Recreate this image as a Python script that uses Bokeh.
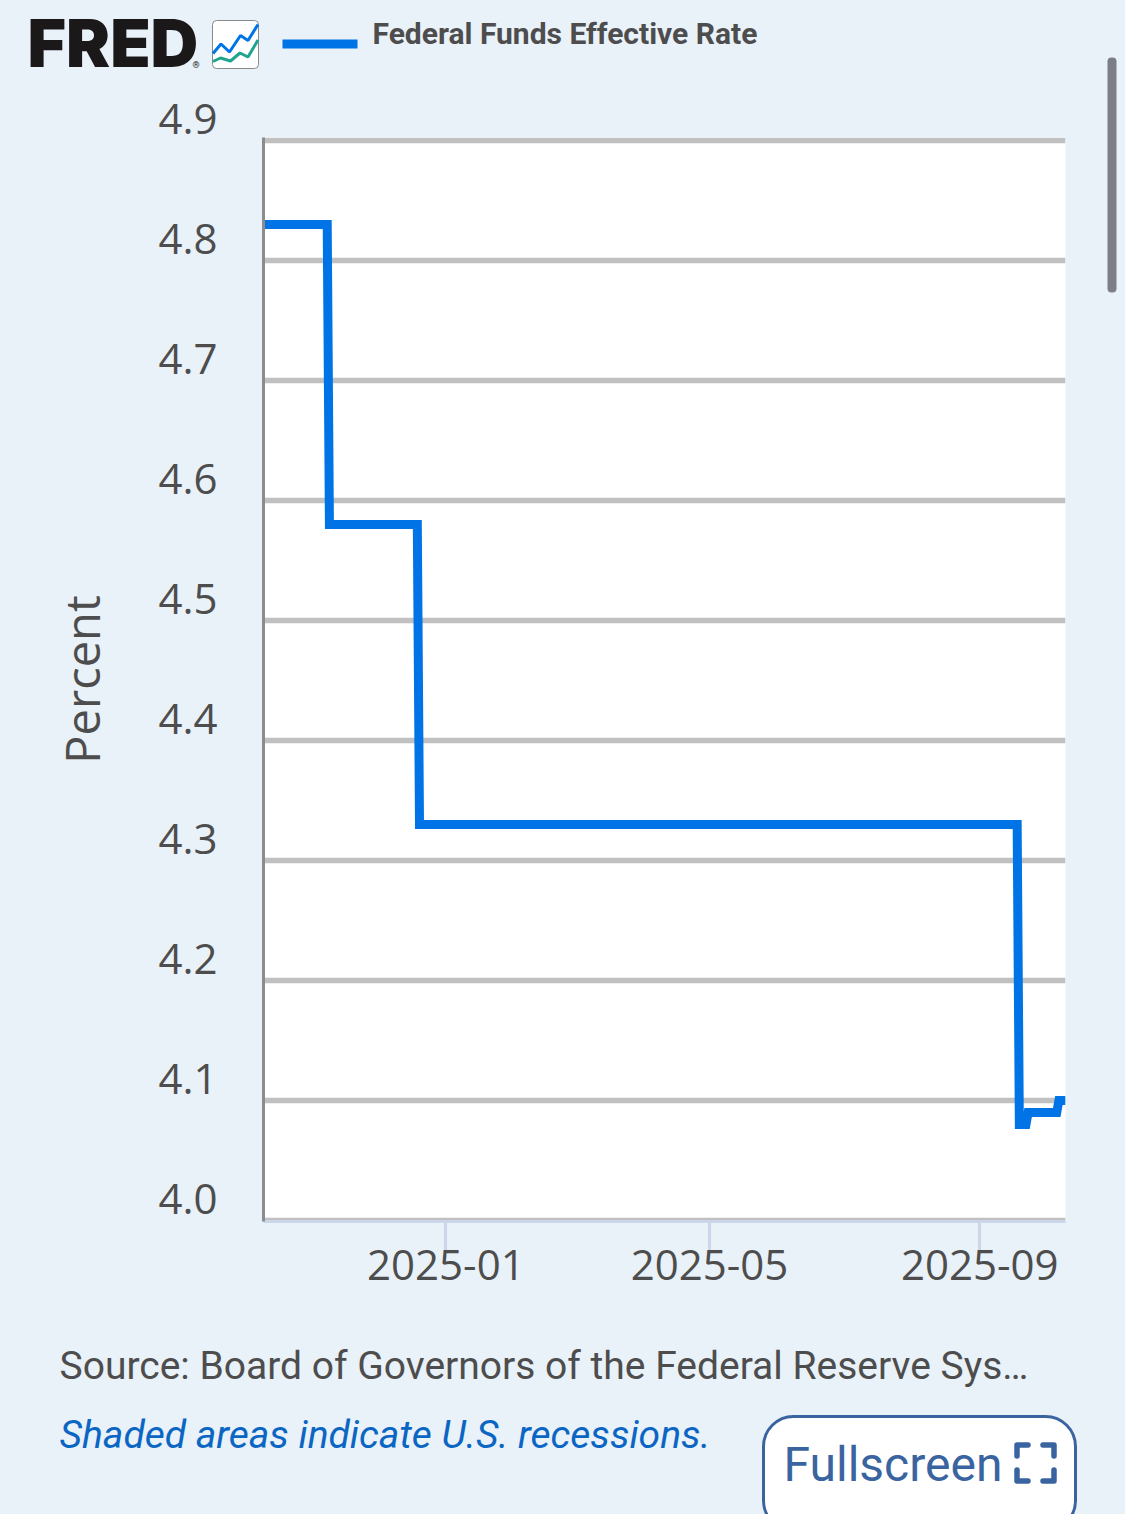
from datetime import datetime
from bokeh.plotting import figure
from bokeh.embed import file_html
from bokeh.resources import INLINE
from bokeh.core.properties import value
from bokeh.models import BoxAnnotation, DatetimeTickFormatter, FixedTicker, NumeralTickFormatter, Range1d

# ---- data ----
dates = ["2024-10-09", "2024-11-08", "2024-11-09", "2024-12-19", "2024-12-20",
         "2025-09-18", "2025-09-19", "2025-09-22", "2025-09-23", "2025-10-06", "2025-10-07", "2025-10-10"]
rates = [4.83, 4.83, 4.58, 4.58, 4.33, 4.33, 4.08, 4.08, 4.09, 4.09, 4.10, 4.10]
y_ticks = [4.0, 4.1, 4.2, 4.3, 4.4, 4.5, 4.6, 4.7, 4.8, 4.9]
x_ticks = ["2025-01-01", "2025-05-01", "2025-09-01"]
series_name = "Federal Funds Effective Rate"
y_title = "Percent"
source_note = "Source: Board of Governors of the Federal Reserve Sys\u2026"
recession_note = "Shaded areas indicate U.S. recessions."
button_text = "Fullscreen"

BG = "#e9f1f9"
BLUE = "#0073e6"
TXT = "#4d4d4d"
BTN = "#3a64a0"
ABS = {"position": "absolute", "left": "0px", "top": "0px"}

FL, FR, FT, FB = 263, 1065, 137, 1221
W, H = 1125, 1514
PER_UNIT = 1200.0
LABEL_RISE = 22  # y tick labels sit this many pixels above their gridlines
BASE = 0.37      # how far below y the "alphabetic" svg text lands, per px of font size
y0 = 4.0 - (FB - 1220) / PER_UNIT
y1 = 4.0 + (1220 - FT) / PER_UNIT


def ms(s):
    return datetime.strptime(s, "%Y-%m-%d").timestamp() * 1000


# ---- page layer: header, footer, button, scrollbar (page pixels, y downwards) ----
bg = figure(width=W, height=H, output_backend="svg", toolbar_location=None,
            x_range=Range1d(0, W), y_range=Range1d(H, 0),
            x_axis_location=None, y_axis_location=None,
            min_border=0, min_border_left=0, min_border_right=0, min_border_top=0, min_border_bottom=0,
            background_fill_color=BG, border_fill_color=BG, outline_line_color=None, styles=ABS)
bg.grid.visible = False


def label(x, y, text, font="Roboto", size=37, color=TXT, style="normal", fig=None):
    (fig or bg).text([x], [y - BASE * size], text=[text], text_font=value(font), text_font_size=value(f"{size}px"),
                     text_color=color, text_font_style=style, text_baseline="alphabetic", text_align="left")


def box(l, t, r, b, **kw):
    bg.add_layout(BoxAnnotation(left=l, right=r, top=t, bottom=b, level="overlay", **kw))


label(27, 67, "FRED", font="Inter Black", size=66, color="#1a1818", style="bold")
label(192, 68, "\u00ae", size=9, color="#1a1818")
box(212, 20, 258, 68, fill_color="white", fill_alpha=1, line_color="#8a8a8a", line_alpha=1, line_width=1, border_radius=4)
box(282, 39, 357, 48, fill_color=BLUE, fill_alpha=1, line_color=None)
label(372, 44, series_name, size=30, style="bold")
label(59, 1380, source_note, size=39)
label(59, 1449, recession_note, size=39, color="#0b66c3", style="italic")
box(763, 1416, 1075, 1530, fill_color="white", fill_alpha=1, line_color=BTN, line_alpha=1, line_width=3, border_radius=30)
box(1107, 57, 1116, 292, fill_color="#7b7f85", fill_alpha=1, line_color=None, border_radius=4)

# text and little marks on top of those boxes
icon = figure(width=W, height=H, output_backend="svg", toolbar_location=None,
              x_range=Range1d(0, W), y_range=Range1d(H, 0),
              x_axis_location=None, y_axis_location=None,
              min_border=0, min_border_left=0, min_border_right=0, min_border_top=0, min_border_bottom=0,
              background_fill_alpha=0, border_fill_alpha=0, outline_line_color=None, styles=ABS)
icon.grid.visible = False
icon.line([212.5, 220.5, 229, 240, 247.5, 257.5], [53, 43.5, 51.5, 35, 40, 24], line_color=BLUE, line_width=3)
icon.line([212.5, 220, 230, 239.5, 247.5, 257.5], [61, 57.5, 60.5, 52.5, 56.5, 39.5], line_color="#1fa58f", line_width=3)
label(783, 1482, button_text, size=48, color=BTN, fig=icon)
for x0, sx in [(1016.5, 1), (1053.5, -1)]:
    for yy, sy in [(1444.5, 1), (1480.5, -1)]:
        icon.line([x0, x0, x0 + sx * 11], [yy + sy * 11, yy, yy], line_color=BTN, line_width=5.5,
                  line_join="round", line_cap="round")

# ---- chart layer ----
p = figure(width=W, height=H, output_backend="svg", toolbar_location=None,
           x_axis_type="datetime",
           x_range=Range1d(ms("2024-10-10"), ms("2025-10-10")),
           y_range=Range1d(y0, y1),
           min_border_left=FL, min_border_right=W - FR,
           min_border_top=FT, min_border_bottom=H - FB,
           background_fill_color="white", border_fill_alpha=0, outline_line_color=None, styles=ABS)

p.xgrid.visible = False
p.ygrid.ticker = FixedTicker(ticks=y_ticks)
p.ygrid.grid_line_color = "#c0c0c0"
p.ygrid.grid_line_width = 5.5

xa = p.xaxis[0]
xa.ticker = FixedTicker(ticks=[ms(d) for d in x_ticks])
xa.formatter = DatetimeTickFormatter(days="%Y-%m", months="%Y-%m", years="%Y-%m")
xa.axis_line_color = "#ccd6eb"
xa.axis_line_width = 3
xa.major_tick_line_color = "#ccd6eb"
xa.major_tick_line_width = 3
xa.major_tick_in = 0
xa.major_tick_out = 30
xa.minor_tick_line_color = None
xa.major_label_standoff = -2
xa.major_label_text_font = "Open Sans"
xa.major_label_text_font_size = "42px"
xa.major_label_text_color = TXT

ya = p.yaxis[0]
ya.ticker = FixedTicker(ticks=y_ticks)
ya.axis_line_color = "#8c8c8c"
ya.axis_line_width = 3
ya.major_tick_line_color = None
ya.minor_tick_line_color = None
ya.major_label_overrides = {t: "" for t in y_ticks}
ya.axis_label = y_title
ya.axis_label_text_font = "Open Sans"
ya.axis_label_text_font_size = "47px"
ya.axis_label_text_font_style = "normal"
ya.axis_label_text_color = TXT
ya.axis_label_standoff = 144

p.line([ms(d) for d in dates], rates, line_color=BLUE, line_width=9, line_join="miter")

# ---- y tick labels: the same scale, its frame lifted by LABEL_RISE ----
t = figure(width=W, height=H, output_backend="svg", toolbar_location=None,
           x_range=Range1d(0, 1), y_range=Range1d(y0, y1), x_axis_location=None,
           min_border_left=FL, min_border_right=W - FR,
           min_border_top=FT - LABEL_RISE, min_border_bottom=H - FB + LABEL_RISE,
           background_fill_alpha=0, border_fill_alpha=0, outline_line_color=None, styles=ABS)
t.grid.visible = False
ta = t.yaxis[0]
ta.ticker = FixedTicker(ticks=y_ticks)
ta.formatter = NumeralTickFormatter(format="0.0")
ta.axis_line_color = None
ta.major_tick_line_color = None
ta.minor_tick_line_color = None
ta.major_label_standoff = FL - 217 - 6
ta.major_label_text_font = "Open Sans"
ta.major_label_text_font_size = "42px"
ta.major_label_text_color = TXT

html = file_html([bg, p, t, icon], INLINE)
html = html.replace("<head>", "<head><style>html,body{background:%s;}</style>" % BG, 1)
open("out.html", "w").write(html)
